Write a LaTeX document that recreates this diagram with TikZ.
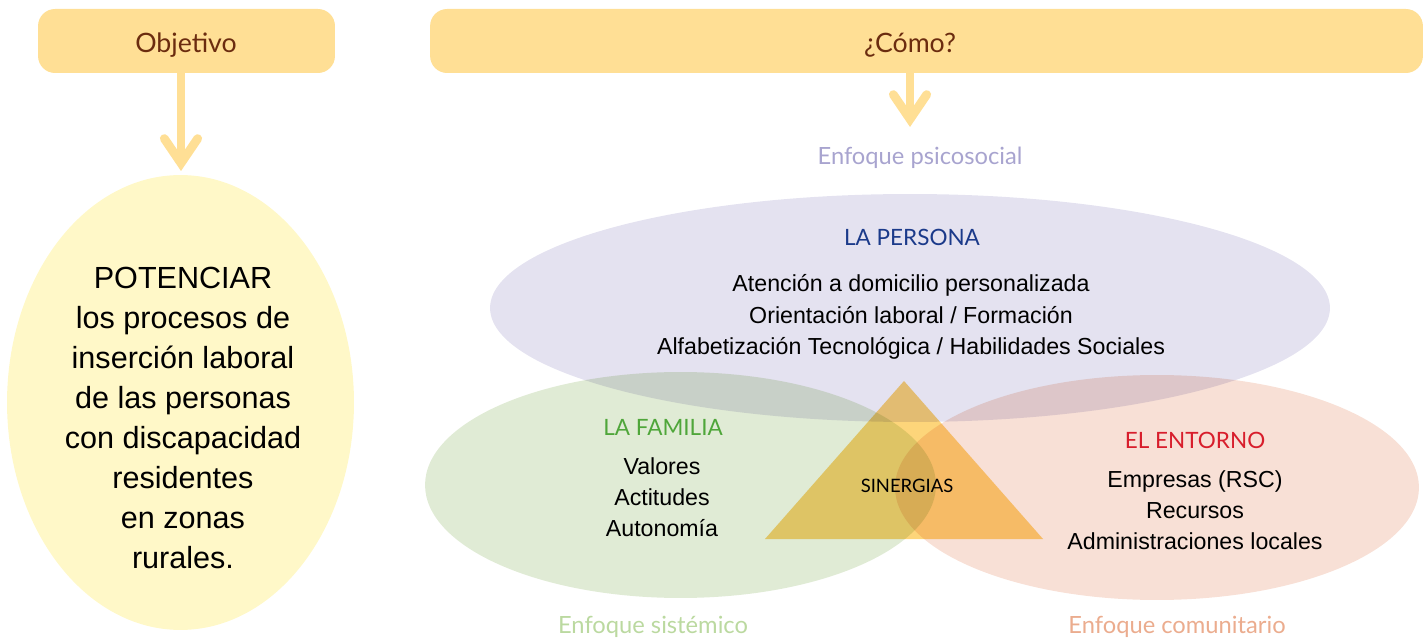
\documentclass[tikz,border=0pt]{standalone}
\usepackage{fontspec}
\setmainfont{Liberation Sans}
\newfontfamily\humanist{Lato}
\usetikzlibrary{positioning,shapes.geometric,arrows.meta}

\definecolor{boxyellow}{HTML}{FFDF95}
\definecolor{boxtext}{HTML}{6B2C0F}
\definecolor{goalfill}{HTML}{FFF8C8}
\definecolor{personfill}{HTML}{E4E2F0}
\definecolor{familyfill}{HTML}{E0EBD5}
\definecolor{envfill}{HTML}{F8E0D6}
\definecolor{synergyfill}{HTML}{FDD57A}
\definecolor{persontext}{HTML}{1B3A8A}
\definecolor{familytext}{HTML}{4FA63A}
\definecolor{envtext}{HTML}{D81E2C}
\definecolor{psicotext}{HTML}{A8A4CF}
\definecolor{sistext}{HTML}{BBD9A0}
\definecolor{comtext}{HTML}{EBAC8E}

\begin{document}
\begin{tikzpicture}[x=0.02cm, y=-0.02cm,
    titlebox/.style={rectangle, rounded corners=0.34cm, fill=boxyellow, minimum height=1.28cm},
    title/.style={text=boxtext, font=\humanist\fontsize{15.2}{18}\selectfont},
    area/.style={ellipse, inner sep=0pt, blend mode=multiply},
    head/.style={font=\humanist\fontsize{12.8}{15}\selectfont},
    items/.style={align=center, font=\fontsize{13.2}{17.8}\selectfont},
    approach/.style={font=\humanist\fontsize{13.5}{16}\selectfont},
    down/.style={draw=boxyellow, line width=5pt, -{Straight Barb[length=14pt 0, width=19pt 0, line cap=round]}}
    ]
    \useasboundingbox (0,0) rectangle (1425,641);

    % headers
    \node (objbox) [titlebox, minimum width=5.94cm] at (186.5,41) {};
    \node (objetivo) [title] at (186,45) {Objetivo};
    \node (comobox) [titlebox, minimum width=19.86cm] at (926.5,41) {};
    \node (como) [title] at (910,45) {¿Cómo?};

    % goal
    \node (meta) [area, fill=goalfill, minimum width=6.94cm, minimum height=9.1cm] at (180.5,402.5) {};
    \node (potenciar) [align=center, font=\fontsize{17.4}{22.7}\selectfont] at (183,418)
      {POTENCIAR\\los procesos de\\inserción laboral\\de las personas\\con discapacidad\\residentes\\en zonas\\rurales.};

    % the three areas
    \node (persona) [area, fill=personfill, minimum width=16.8cm, minimum height=4.56cm] at (910,308) {};
    \node (familia) [area, fill=familyfill, minimum width=10.22cm, minimum height=4.52cm] at (680.5,485) {};
    \node (entorno) [area, fill=envfill, minimum width=10.48cm, minimum height=4.5cm] at (1157,487.5) {};
    \coordinate (apex) at (904,381);
    \coordinate (baseL) at (765,539);
    \coordinate (baseR) at (1043,539);
    \fill[synergyfill, blend mode=multiply] (apex) -- (baseL) -- (baseR) -- cycle;

    % arrows
    \coordinate (tip1) at (181,171);
    \coordinate (tip2) at (910,127);
    \draw[down] (objbox.south -| tip1) -- (tip1);
    \draw[down] (comobox.south -| tip2) -- (tip2);

    % texts
    \node (psico) [approach, text=psicotext] at (920,158) {Enfoque psicosocial};
    \node (personahead) [head, text=persontext] at (912,237) {LA PERSONA};
    \node (personaitems) [items] at (911,317) {Atención a domicilio personalizada\\Orientación laboral / Formación\\Alfabetización Tecnológica / Habilidades Sociales};
    \node (familiahead) [head, text=familytext] at (663,427) {LA FAMILIA};
    \node (familiaitems) [items] at (662,497) {Valores\\Actitudes\\Autonomía};
    \node (entornohead) [head, text=envtext] at (1195,440) {EL ENTORNO};
    \node (entornoitems) [items] at (1195,510) {Empresas (RSC)\\Recursos\\Administraciones locales};
    \node (sinergias) [font=\humanist\fontsize{10.5}{12}\selectfont] at (907,486) {SINERGIAS};
    \node (sistemico) [approach, text=sistext] at (653,627) {Enfoque sistémico};
    \node (comunitario) [approach, text=comtext] at (1177,627) {Enfoque comunitario};
\end{tikzpicture}
\end{document}
